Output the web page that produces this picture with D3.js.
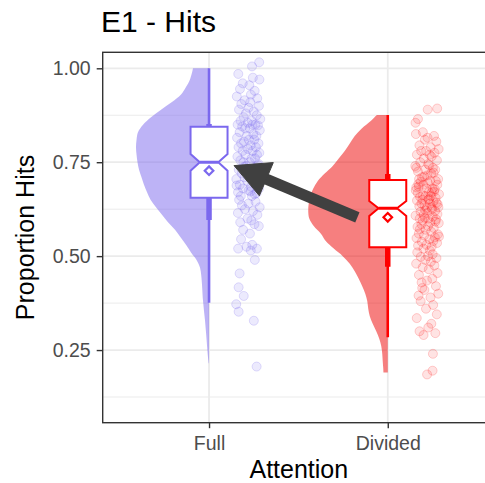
<!DOCTYPE html>
<html>
<head>
<meta charset="utf-8">
<script src="https://cdn.jsdelivr.net/npm/d3@7"></script>
<style>
  html, body { margin: 0; padding: 0; background: #ffffff; overflow: hidden; }
  svg { display: block; }
  text { font-family: "Liberation Sans", Arial, Helvetica, sans-serif; }
</style>
</head>
<body>
<svg id="chart" width="485" height="483"></svg>
<script>
// ---- data -------------------------------------------------------------
const categories = ["Full", "Divided"];
const seriesColors = ["#7b68ee", "#ff0000"];
const violinColors = ["#7b68ee", "#ee0000"];
const yTickValues = [0.25, 0.50, 0.75, 1.00];
const yMinorValues = [0.125, 0.375, 0.625, 0.875];

// box-plot summaries per condition
const boxQ1 = [0.6556, 0.5235];
const boxMedian = [0.750, 0.6274];
const boxQ3 = [0.8446, 0.7027];
const notchLo = [0.7275, 0.607];
const notchHi = [0.772, 0.6468];
const whiskerLo = [0.376, 0.284];
const whiskerHi = [1.000, 0.8757];
const meanHits = [0.7275, 0.6034];
const sdLo = [0.596, 0.472];
const sdHi = [0.852, 0.7187];

// half-violin density profiles (relative density at each proportion)
const fullViolinV = [1.00,0.97,0.95,0.93,0.91,0.89,0.87,0.85,0.83,0.81,0.79,0.77,0.75,0.73,0.71,0.69,0.67,0.65,0.63,0.61,0.59,0.57,0.55,0.53,0.51,0.49,0.47,0.45,0.43,0.41,0.39,0.37,0.35,0.33,0.31,0.29,0.27,0.25,0.23,0.215];
const fullViolinD = [0.200,0.238,0.288,0.350,0.463,0.600,0.725,0.825,0.888,0.906,0.913,0.906,0.894,0.875,0.844,0.813,0.775,0.731,0.663,0.588,0.513,0.425,0.356,0.288,0.225,0.156,0.113,0.098,0.090,0.084,0.079,0.070,0.061,0.051,0.043,0.035,0.028,0.021,0.013,0.004];
const dividedViolinV = [0.876,0.86,0.84,0.82,0.80,0.78,0.76,0.74,0.72,0.70,0.68,0.66,0.64,0.62,0.60,0.58,0.56,0.54,0.52,0.50,0.48,0.46,0.44,0.42,0.40,0.38,0.36,0.34,0.32,0.30,0.28,0.26,0.24,0.22,0.20,0.19];
const dividedViolinD = [0.138,0.213,0.325,0.413,0.475,0.538,0.613,0.688,0.788,0.875,0.931,0.969,0.988,0.994,0.981,0.925,0.838,0.775,0.675,0.563,0.475,0.413,0.363,0.319,0.281,0.256,0.244,0.225,0.188,0.144,0.106,0.081,0.069,0.063,0.056,0.054];

// individual participants' proportion of hits
const fullHits = [
  1.016,1.005,0.985,0.975,0.97,0.96,0.955,
  0.945,0.94,0.93,0.925,0.92,0.915,0.91,0.905,0.90,
  0.895,0.89,0.885,0.88,0.875,0.87,0.865,0.86,0.86,0.855,0.85,0.85,0.85,
  0.848,0.845,0.84,0.84,0.835,0.83,0.825,0.82,0.82,0.815,0.81,0.81,0.805,0.80,0.80,
  0.795,0.79,0.79,0.785,0.78,0.78,0.775,0.77,0.77,0.765,0.76,0.76,0.755,0.75,0.75,
  0.745,0.74,0.735,0.73,0.73,0.725,0.72,0.715,0.71,0.71,0.705,0.70,0.70,
  0.695,0.69,0.685,0.68,0.68,0.675,0.67,0.665,0.66,0.66,
  0.742,0.727,0.712,0.688,0.672,0.668,0.738,
  0.65,0.645,0.64,0.635,0.63,0.625,0.62,0.615,0.61,0.60,0.595,0.59,0.585,0.58,0.57,0.56,0.545,0.53,0.525,0.52,0.52,0.515,
  0.49,0.454,0.417,0.394,0.372,0.352,0.328,0.206
];
const dividedHits = [
  0.893,0.89,0.865,0.855,0.83,0.825,0.82,0.815,0.81,0.805,
  0.795,0.79,0.785,0.78,0.78,0.775,0.77,0.77,0.765,0.76,0.755,0.75,
  0.745,0.74,0.735,0.73,0.73,0.725,0.72,0.715,0.71,0.705,0.705,0.742,0.722,0.712,0.735,
  0.70,0.70,0.698,0.695,0.69,0.69,0.685,0.68,0.68,0.678,0.675,0.67,0.67,0.668,0.665,0.66,0.66,0.658,0.655,0.65,0.65,0.648,0.645,0.64,0.64,0.638,0.635,0.633,0.63,0.63,0.628,0.692,0.672,0.662,0.652,0.642,0.683,
  0.625,0.622,0.62,0.618,0.615,0.612,0.61,0.608,0.605,0.60,0.60,0.598,0.595,0.59,0.588,0.585,0.58,0.578,0.575,0.57,0.565,0.56,0.558,0.555,0.55,0.548,0.545,0.54,0.538,0.535,0.53,0.528,0.525,0.602,0.592,0.572,0.552,
  0.52,0.515,0.51,0.505,0.50,0.498,0.495,0.49,0.485,0.48,0.475,0.47,0.465,0.455,0.45,0.44,0.435,0.43,0.42,0.41,0.40,0.395,0.39,0.38,0.37,0.36,0.345,0.335,0.32,0.31,0.30,0.295,0.29,0.24,0.195,0.185,0.415
];

// horizontal jitter of each point, as a fraction of the jitter width
const fullJitter = [
  0.89,0.3,-0.83,0.37,0.91,-0.46,0.08,-0.69,0.52,0.21,
  -0.95,0.73,-0.31,0.16,-0.58,0.87,0.02,-0.77,0.44,-0.2,
  0.69,-0.39,0.98,-0.64,0.27,-0.05,0.58,-0.88,0.33,0.79,
  -0.51,0.12,-0.26,0.94,-0.72,0.41,-0.14,0.66,-0.93,0.05,
  0.49,-0.36,0.83,-0.6,0.19,-0.81,0.62,-0.03,0.35,-0.47,
  0.9,-0.24,0.71,-0.9,0.26,0.55,-0.66,0.1,-0.41,0.85,
  -0.17,0.47,-0.79,0.31,0.97,-0.55,0.14,-0.32,0.76,-0.99,
  0.4,-0.09,0.6,-0.7,0.22,0.88,-0.44,0.03,-0.85,0.53,
  0.29,-0.62,0.8,-0.19,0.45,-0.97,0.17,0.68,-0.35,-0.76,
  0.59,0.01,-0.53,0.93,-0.28,0.38,-0.86,0.74,-0.07,0.24,
  -0.67,0.5,0.86,-0.43,0.13,-0.6,0.32,-0.15,0.7,-0.84,0.2,
  0.53,-0.72,-0.8,-0.38,-1,-0.8,0.45,0.68
];
const dividedJitter = [
  0.83,0.05,-0.75,-0.95,-0.35,-0.92,0.57,0.04,-0.18,0.76,
  -0.63,0.29,0.95,-0.08,-0.49,0.61,-0.84,0.22,0.37,-0.27,
  0.81,-0.56,0.09,-0.97,0.48,0.67,-0.14,-0.75,0.33,0.02,
  -0.41,0.91,-0.66,0.18,0.54,-0.23,-0.88,0.72,0.26,-0.52,
  0.06,-0.31,0.84,-0.69,0.45,-0.04,0.63,-0.93,0.15,0.39,
  -0.77,0.98,-0.12,0.31,-0.58,0.71,-0.39,0.11,-0.83,0.52,
  0.24,-0.46,0.87,-0.21,-0.64,0.36,0.93,-0.02,-0.72,0.58,
  -0.33,0.17,0.78,-0.89,0.41,-0.16,0.66,-0.54,0.03,0.85,
  -0.28,-0.95,0.47,0.12,-0.61,0.74,-0.37,0.27,0.96,-0.47,
  0.08,-0.79,0.55,-0.11,0.34,-0.68,0.89,-0.25,0.64,-0.87,
  0.19,0.51,-0.43,0.82,-0.06,-0.74,0.38,-0.19,0.69,-0.59,
  0.98,-0.3,0.23,-0.81,0.46,0.07,-0.52,0.77,-0.15,0.31,
  -0.9,0.6,-0.36,0.14,0.86,-0.67,0.43,-0.01,-0.45,0.73,
  -0.22,0.92,-0.7,0.28,-0.53,0.5,-0.09,0.8,-0.85,0.35,
  0.1,-0.62,0.68,-0.29,0.48,0.45,0.0,-0.4
];

// annotation arrow: from the Divided mean towards the Full group (x in category units)
const arrowFrom = [1.83, 0.603];
const arrowTo = [1.14, 0.741];

// ---- layout -----------------------------------------------------------
const svg = d3.select("#chart");
const x = d3.scaleLinear().domain([0.405, 2.6]).range([102.7, 495]);
const y = d3.scaleLinear().domain([0.0566, 1.0426]).range([422.7, 52.3]);
const violinWidth = d3.scaleLinear().domain([0, 1]).range([0, 0.4477]);
const boxHalf = 0.1035;       // half box width in category units
const pointOffset = 0.22;     // jittered points sit to the right of each box
const jitterWidth = 0.068;

const [xL, xR] = x.range();
const [yB, yT] = y.range();

svg.append("defs").append("clipPath").attr("id", "panelClip")
  .append("rect").attr("x", xL).attr("y", yT).attr("width", xR - xL).attr("height", yB - yT);

const panel = svg.append("g").attr("clip-path", "url(#panelClip)");
panel.append("rect").attr("x", xL).attr("y", yT).attr("width", xR - xL).attr("height", yB - yT).attr("fill", "#ffffff");

// grid
panel.selectAll("line.minor").data(yMinorValues).join("line")
  .attr("x1", xL).attr("x2", xR).attr("y1", d => y(d)).attr("y2", d => y(d))
  .attr("stroke", "#ebebeb").attr("stroke-width", 1);
panel.selectAll("line.majorY").data(yTickValues).join("line")
  .attr("x1", xL).attr("x2", xR).attr("y1", d => y(d)).attr("y2", d => y(d))
  .attr("stroke", "#ebebeb").attr("stroke-width", 1.8);
panel.selectAll("line.majorX").data(categories).join("line")
  .attr("x1", (d, i) => x(i + 1)).attr("x2", (d, i) => x(i + 1)).attr("y1", yT).attr("y2", yB)
  .attr("stroke", "#ebebeb").attr("stroke-width", 1.8);

// half violins
const violins = [
  { v: fullViolinV, d: fullViolinD },
  { v: dividedViolinV, d: dividedViolinD }
];
violins.forEach((vio, gi) => {
  const c = gi + 1;
  const pts = vio.v.map((v, k) => ({ v, d: vio.d[k] }));
  const area = d3.area()
    .y(p => y(p.v))
    .x0(() => x(c))
    .x1(p => x(c - violinWidth(p.d)))
    .curve(d3.curveCatmullRom.alpha(0.5));
  panel.append("path").attr("d", area(pts))
    .attr("fill", violinColors[gi]).attr("fill-opacity", 0.5).attr("stroke", "none");
});

// whiskers, spread bars, notched boxes, means
categories.forEach((cat, gi) => {
  const c = gi + 1, col = seriesColors[gi];
  const cx = x(c);
  panel.append("line").attr("x1", cx).attr("x2", cx)
    .attr("y1", y(whiskerLo[gi])).attr("y2", y(whiskerHi[gi]))
    .attr("stroke", col).attr("stroke-width", 2.6);
  panel.append("line").attr("x1", cx).attr("x2", cx)
    .attr("y1", y(sdLo[gi])).attr("y2", y(sdHi[gi]))
    .attr("stroke", col).attr("stroke-width", 5.5);

  const l = x(c - boxHalf), r = x(c + boxHalf);
  const nl = x(c - boxHalf / 2), nr = x(c + boxHalf / 2);
  const p = d3.path();
  p.moveTo(l, y(boxQ3[gi]));
  p.lineTo(r, y(boxQ3[gi]));
  p.lineTo(r, y(notchHi[gi]));
  p.lineTo(nr, y(boxMedian[gi]));
  p.lineTo(r, y(notchLo[gi]));
  p.lineTo(r, y(boxQ1[gi]));
  p.lineTo(l, y(boxQ1[gi]));
  p.lineTo(l, y(notchLo[gi]));
  p.lineTo(nl, y(boxMedian[gi]));
  p.lineTo(l, y(notchHi[gi]));
  p.closePath();
  panel.append("path").attr("d", p.toString())
    .attr("fill", "#ffffff").attr("stroke", col).attr("stroke-width", 2).attr("stroke-linejoin", "miter");
  panel.append("line").attr("x1", nl).attr("x2", nr)
    .attr("y1", y(boxMedian[gi])).attr("y2", y(boxMedian[gi]))
    .attr("stroke", col).attr("stroke-width", 3);

  const my = y(meanHits[gi]), s = 4.3;
  panel.append("path")
    .attr("d", `M${cx},${my - s}L${cx + s},${my}L${cx},${my + s}L${cx - s},${my}Z`)
    .attr("fill", "#ffffff").attr("stroke", col).attr("stroke-width", 2.2);
});

// jittered raw points
const pointSets = [
  { hits: fullHits, jit: fullJitter, fo: 0.14, so: 0.22 },
  { hits: dividedHits, jit: dividedJitter, fo: 0.11, so: 0.18 }
];
pointSets.forEach((set, gi) => {
  const c = gi + 1 + pointOffset;
  panel.append("g").selectAll("circle").data(set.hits).join("circle")
    .attr("cx", (d, i) => x(c + set.jit[i] * jitterWidth))
    .attr("cy", d => y(d))
    .attr("r", 4.5)
    .attr("fill", seriesColors[gi]).attr("fill-opacity", set.fo)
    .attr("stroke", seriesColors[gi]).attr("stroke-opacity", set.so).attr("stroke-width", 1);
});

// arrow
(function drawArrow() {
  const x0 = x(arrowFrom[0]), y0 = y(arrowFrom[1]);
  const x1 = x(arrowTo[0]), y1 = y(arrowTo[1]);
  const len = Math.hypot(x1 - x0, y1 - y0);
  const ux = (x1 - x0) / len, uy = (y1 - y0) / len;
  const headLen = 35, headHalf = 18;
  const bx = x1 - ux * headLen, by = y1 - uy * headLen;
  panel.append("line").attr("x1", x0).attr("y1", y0)
    .attr("x2", bx + ux * 2).attr("y2", by + uy * 2)
    .attr("stroke", "#404040").attr("stroke-width", 11).attr("stroke-linecap", "butt");
  panel.append("path")
    .attr("d", `M${x1},${y1}L${bx - uy * headHalf},${by + ux * headHalf}L${bx + uy * headHalf},${by - ux * headHalf}Z`)
    .attr("fill", "#404040").attr("stroke", "#404040").attr("stroke-width", 1).attr("stroke-linejoin", "miter");
})();

// panel border
svg.append("rect").attr("x", xL).attr("y", yT).attr("width", xR - xL).attr("height", yB - yT)
  .attr("fill", "none").attr("stroke", "#333333").attr("stroke-width", 1.4);

// axes
const yAxis = svg.append("g").attr("transform", `translate(${xL},0)`)
  .call(d3.axisLeft(y).tickValues(yTickValues).tickFormat(d3.format(".2f")).tickSize(6).tickPadding(6));
const xAxis = svg.append("g").attr("transform", `translate(0,${yB})`)
  .call(d3.axisBottom(x).tickValues([1, 2]).tickFormat(d => categories[d - 1]).tickSize(5.5).tickPadding(8.4));
[yAxis, xAxis].forEach(ax => {
  ax.select(".domain").remove();
  ax.selectAll(".tick line").attr("stroke", "#333333").attr("stroke-width", 1.4);
  ax.selectAll(".tick text")
    .attr("fill", "#4d4d4d")
    .style("font-family", '"Liberation Sans", Arial, Helvetica, sans-serif')
    .style("font-size", "19.5px");
});

// titles
svg.append("text").attr("x", 101).attr("y", 31.7)
  .style("font-size", "30px").attr("fill", "#000000").text("E1 - Hits");
svg.append("text").attr("x", (xL + xR) / 2).attr("y", 478.3).attr("text-anchor", "middle")
  .style("font-size", "25px").attr("fill", "#000000").text("Attention");
svg.append("text").attr("transform", `translate(33.5,${(yT + yB) / 2}) rotate(-90)`)
  .attr("text-anchor", "middle").style("font-size", "25px").attr("fill", "#000000").text("Proportion Hits");
</script>
</body>
</html>
